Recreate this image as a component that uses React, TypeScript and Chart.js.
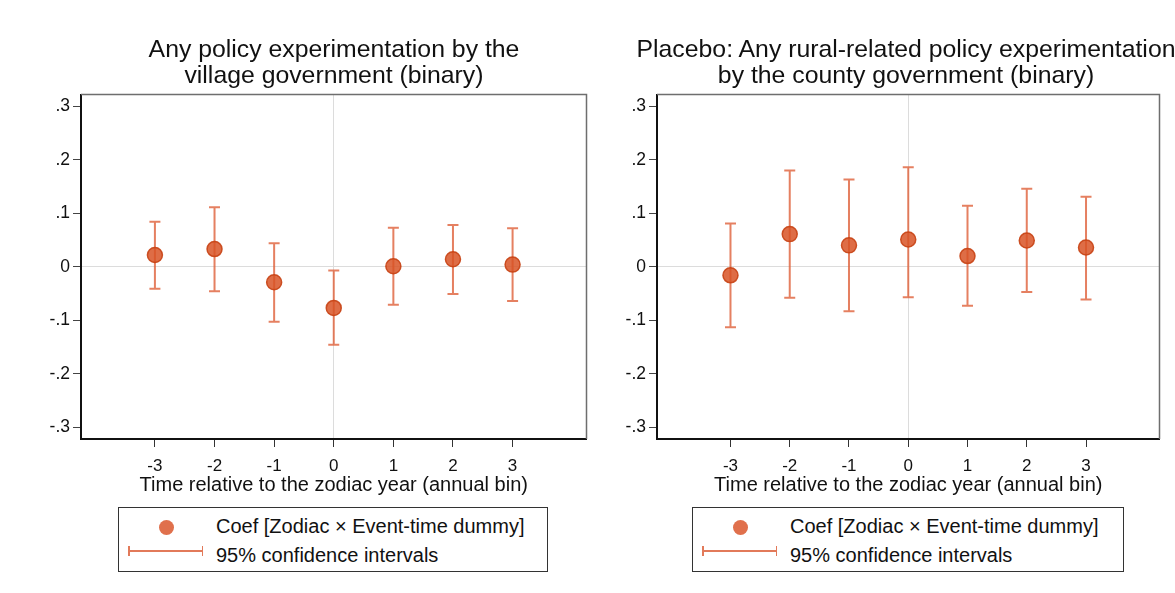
import React, { useEffect, useRef } from "react";
import { Chart, registerables } from "chart.js";

Chart.register(...registerables);

// ---- Data ----
const periods = [-3, -2, -1, 0, 1, 2, 3];
const villageCoef = [0.022, 0.033, -0.029, -0.077, 0.001, 0.014, 0.004];
const villageLower = [-0.041, -0.046, -0.103, -0.146, -0.071, -0.051, -0.064];
const villageUpper = [0.084, 0.111, 0.044, -0.007, 0.073, 0.078, 0.072];
const countyCoef = [-0.016, 0.061, 0.040, 0.051, 0.020, 0.049, 0.036];
const countyLower = [-0.113, -0.058, -0.083, -0.057, -0.073, -0.047, -0.061];
const countyUpper = [0.081, 0.180, 0.163, 0.186, 0.114, 0.146, 0.131];
const yTicks = [-0.3, -0.2, -0.1, 0, 0.1, 0.2, 0.3];
const yTickLabels = ["-.3", "-.2", "-.1", "0", ".1", ".2", ".3"];
const villageTitle = ["Any policy experimentation by the", "village government (binary)"];
const countyTitle = ["Placebo: Any rural-related policy experimentation", "by the county government (binary)"];
const xAxisTitle = "Time relative to the zodiac year (annual bin)";
const legendCoef = "Coef [Zodiac \u00d7 Event-time dummy]";
const legendCI = "95% confidence intervals";

const FONT = "'Liberation Sans', Arial, Helvetica, sans-serif";
const MARKER_FILL = "rgba(216,84,38,0.85)";
const MARKER_EDGE = "rgba(200,66,20,0.9)";
const CI_COLOR = "rgba(222,96,58,0.8)";

type PanelProps = {
  title: string[];
  coef: number[];
  lower: number[];
  upper: number[];
  left: number;
  width: number;
  yAxisWidth: number;
  rightPad: number;
  titleCenter: number;
  legendLeft: number;
  legendWidth: number;
};

function Panel(p: PanelProps) {
  const ref = useRef<HTMLCanvasElement | null>(null);
  useEffect(() => {
    if (!ref.current) return;
    const errorBars = {
      id: "errorBars",
      beforeDatasetsDraw(chart: any) {
        const { ctx, chartArea, scales } = chart;
        const xs = scales.x;
        const ys = scales.y;
        ctx.save();
        // frame top & right
        ctx.strokeStyle = "#6e6e6e";
        ctx.lineWidth = 1.5;
        ctx.beginPath();
        ctx.moveTo(chartArea.left, chartArea.top);
        ctx.lineTo(chartArea.right, chartArea.top);
        ctx.lineTo(chartArea.right, chartArea.bottom);
        ctx.stroke();
        ctx.strokeStyle = CI_COLOR;
        ctx.lineWidth = 2;
        for (let i = 0; i < periods.length; i++) {
          const x = xs.getPixelForValue(periods[i]);
          const y1 = ys.getPixelForValue(p.lower[i]);
          const y2 = ys.getPixelForValue(p.upper[i]);
          ctx.beginPath();
          ctx.moveTo(x, y1);
          ctx.lineTo(x, y2);
          ctx.moveTo(x - 5.5, y1);
          ctx.lineTo(x + 5.5, y1);
          ctx.moveTo(x - 5.5, y2);
          ctx.lineTo(x + 5.5, y2);
          ctx.stroke();
        }
        ctx.restore();
      },
    };
    const chart = new Chart(ref.current, {
      type: "scatter",
      data: {
        datasets: [
          {
            data: periods.map((x, i) => ({ x, y: p.coef[i] })),
            pointRadius: 7.5,
            pointHoverRadius: 7.5,
            backgroundColor: MARKER_FILL,
            borderColor: MARKER_EDGE,
            borderWidth: 1.5,
          },
        ],
      },
      options: {
        animation: false,
        responsive: false,
        devicePixelRatio: 1,
        layout: { padding: { left: 0, right: p.rightPad, top: 94.5, bottom: 0 } },
        plugins: {
          legend: { display: false },
          tooltip: { enabled: false },
          title: { display: false },
        },
        scales: {
          x: {
            type: "linear",
            min: -4.24,
            max: 4.24,
            afterBuildTicks: (s: any) => {
              s.ticks = periods.map((v) => ({ value: v }));
            },
            afterFit: (s: any) => {
              s.height = 61;
            },
            ticks: {
              callback: (v: any) => String(v),
              font: { family: FONT, size: 17 },
              color: "#111",
              padding: 9,
              maxRotation: 0,
            },
            grid: {
              color: (c: any) => (c.tick && Math.abs(c.tick.value) < 1e-9 ? "#dcdcdc" : "rgba(0,0,0,0)"),
              tickColor: "#333",
              tickLength: 8,
              lineWidth: 1,
            },
            border: { color: "#111", width: 2 },
            title: {
              display: true,
              text: xAxisTitle,
              color: "#111",
              font: { family: FONT, size: 20, lineHeight: 1.2 },
              padding: { top: 0, bottom: 3 },
            },
          },
          y: {
            min: -0.322,
            max: 0.322,
            afterBuildTicks: (s: any) => {
              s.ticks = yTicks.map((v) => ({ value: v }));
            },
            afterFit: (s: any) => {
              s.width = p.yAxisWidth;
            },
            ticks: {
              callback: (v: any) => {
                const i = yTicks.findIndex((t) => Math.abs(t - v) < 1e-9);
                return i >= 0 ? yTickLabels[i] : "";
              },
              font: { family: FONT, size: 17.5 },
              color: "#111",
              padding: 3,
            },
            grid: {
              color: (c: any) => (c.tick && Math.abs(c.tick.value) < 1e-9 ? "#dcdcdc" : "rgba(0,0,0,0)"),
              tickColor: "#444",
              tickLength: 8,
              lineWidth: 1,
            },
            border: { color: "#111", width: 2 },
          },
        },
      },
      plugins: [errorBars],
    } as any);
    return () => chart.destroy();
  }, []);

  return (
    <>
      <canvas
        ref={ref}
        width={p.width}
        height={500}
        style={{ position: "absolute", left: p.left, top: 0, width: p.width, height: 500 }}
      />
      <div
        style={{
          position: "absolute",
          left: p.titleCenter - 350,
          top: 35.5,
          width: 700,
          textAlign: "center",
          fontFamily: FONT,
          fontSize: 24.8,
          lineHeight: "26px",
          color: "#111",
          whiteSpace: "nowrap",
        }}
      >
        {p.title.map((t, i) => (
          <div key={i}>{t}</div>
        ))}
      </div>
      <div
        style={{
          position: "absolute",
          left: p.legendLeft,
          top: 507,
          width: p.legendWidth,
          height: 65,
          boxSizing: "border-box",
          border: "1px solid #333",
          fontFamily: FONT,
          fontSize: 20,
          color: "#111",
        }}
      >
        <div
          style={{
            position: "absolute",
            left: 39.5,
            top: 11.5,
            width: 15,
            height: 15,
            borderRadius: 7.5,
            background: "#e0704c",
          }}
        />
        <div style={{ position: "absolute", left: 97, top: 5, lineHeight: "26px", whiteSpace: "nowrap" }}>{legendCoef}</div>
        <div style={{ position: "absolute", left: 9, top: 42, width: 75, height: 2, background: "#e27a5a" }} />
        <div style={{ position: "absolute", left: 9, top: 38, width: 1.5, height: 10, background: "#e27a5a" }} />
        <div style={{ position: "absolute", left: 82.5, top: 38, width: 1.5, height: 10, background: "#e27a5a" }} />
        <div style={{ position: "absolute", left: 97, top: 34, lineHeight: "26px", whiteSpace: "nowrap" }}>{legendCI}</div>
      </div>
    </>
  );
}

export default function App() {
  return (
    <div
      style={{
        position: "absolute",
        left: 0,
        top: 0,
        width: 1175,
        height: 593,
        background: "#fff",
        overflow: "hidden",
      }}
    >
      <Panel
        title={villageTitle}
        coef={villageCoef}
        lower={villageLower}
        upper={villageUpper}
        left={0}
        width={600}
        yAxisWidth={81}
        rightPad={13.5}
        titleCenter={334}
        legendLeft={118}
        legendWidth={430}
      />
      <Panel
        title={countyTitle}
        coef={countyCoef}
        lower={countyLower}
        upper={countyUpper}
        left={590}
        width={585}
        yAxisWidth={67}
        rightPad={15.5}
        titleCenter={906}
        legendLeft={692}
        legendWidth={432}
      />
    </div>
  );
}
